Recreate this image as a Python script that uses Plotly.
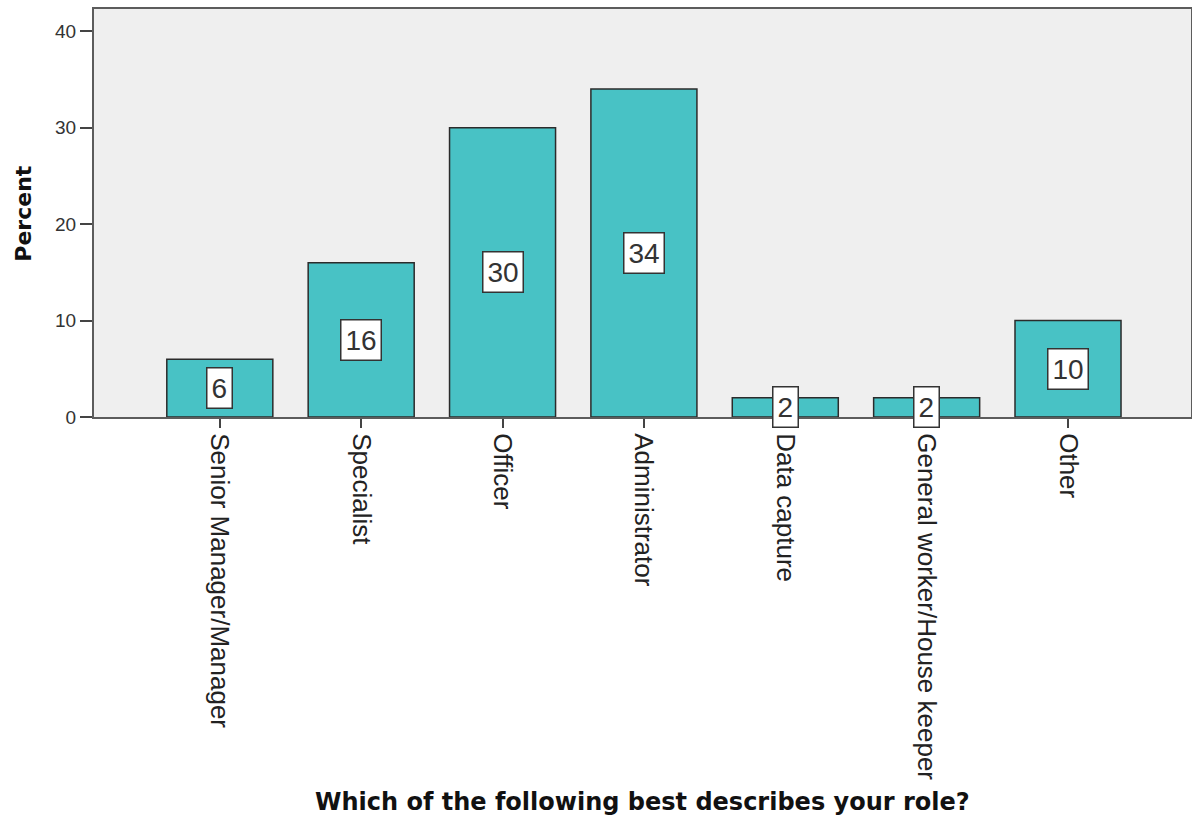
import plotly.graph_objects as go

roles = [
    "Senior Manager/Manager",
    "Specialist",
    "Officer",
    "Administrator",
    "Data capture",
    "General worker/House keeper",
    "Other",
]
percent = [6, 16, 30, 34, 2, 2, 10]

x_title = "Which of the following best describes your role?"
y_title = "Percent"

BAR_COLOR = "#48c2c5"
EDGE = "#2b2b2b"
AXIS = "#5c5c5c"
TITLE_FONT = dict(family="DejaVu Sans", color="#111111", weight="bold")

fig = go.Figure()
fig.add_trace(
    go.Bar(
        x=list(range(len(roles))),
        y=percent,
        width=0.75,
        marker=dict(color=BAR_COLOR, line=dict(color=EDGE, width=1.5)),
        hoverinfo="skip",
    )
)

# value boxes centred halfway up each bar
for i, v in enumerate(percent):
    fig.add_annotation(
        x=i,
        y=v / 2,
        text=str(v),
        showarrow=False,
        font=dict(family="Liberation Sans", size=28, color="#333333"),
        bgcolor="white",
        bordercolor="#333333",
        borderwidth=1.5,
        borderpad=4,
        xanchor="center",
        yanchor="middle",
    )

# axis titles
fig.add_annotation(
    xref="paper", yref="paper", x=0.5, y=-0.943,
    text=x_title, showarrow=False,
    font=dict(size=24, **TITLE_FONT),
    xanchor="center", yanchor="middle",
)
fig.add_annotation(
    xref="paper", x=-0.065, yref="paper", y=0.5,
    text=y_title, showarrow=False, textangle=-90,
    font=dict(size=22, **TITLE_FONT),
    xanchor="center", yanchor="middle",
)

fig.update_layout(
    width=1192,
    height=818,
    margin=dict(l=94, r=1, t=9, b=401),
    paper_bgcolor="white",
    plot_bgcolor="#efefef",
    showlegend=False,
)

fig.update_xaxes(
    tickmode="array",
    tickvals=list(range(len(roles))),
    ticktext=roles,
    tickangle=90,
    range=[-0.89, 6.87],
    showgrid=False,
    zeroline=False,
    showline=True,
    linecolor=AXIS,
    linewidth=2,
    mirror=True,
    ticks="outside",
    ticklen=9,
    tickwidth=1.5,
    tickcolor="#444444",
    tickfont=dict(family="Liberation Sans", size=26, color="#222222"),
    automargin=False,
)

fig.update_yaxes(
    range=[0, 42.3],
    tickvals=[0, 10, 20, 30, 40],
    showgrid=False,
    zeroline=False,
    showline=True,
    linecolor=AXIS,
    linewidth=2,
    mirror=True,
    ticks="outside",
    ticklen=12,
    tickwidth=1.5,
    tickcolor="#444444",
    tickfont=dict(family="Liberation Sans", size=19, color="#333333"),
    automargin=False,
)

fig.write_html("out.html")
